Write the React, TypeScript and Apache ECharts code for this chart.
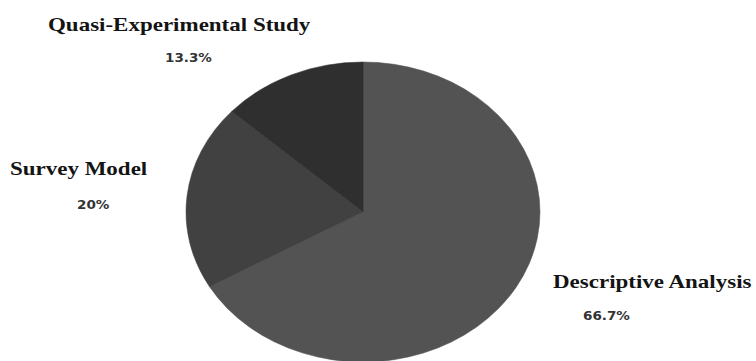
import React, { useEffect, useRef } from "react";
import * as echarts from "echarts";

const categories = ["Descriptive Analysis", "Survey Model", "Quasi-Experimental Study"];
const values = [66.7, 20, 13.3];
const percentLabels = ["66.7%", "20%", "13.3%"];
const sliceColors = ["#535353", "#414141", "#2f2f2f"];

export default function App() {
  const ref = useRef<HTMLDivElement>(null);
  useEffect(() => {
    if (!ref.current) return;
    const chart = echarts.init(ref.current, undefined, { renderer: "svg" });
    const total = values.reduce((a, b) => a + b, 0);
    const cx = 363;
    const cy = 212;
    const ry = 150;
    const rx = 177;
    const titleFont = { fontFamily: "Liberation Serif", fontWeight: "bold" as const, fontSize: 19, fill: "#141414" };
    const pctFont = { fontFamily: "DejaVu Sans", fontWeight: "bold" as const, fontSize: 13, fill: "#333333" };
    const labelPos = [
      { t: [553, 282], p: [583, 316] },
      { t: [10, 169], p: [77, 205] },
      { t: [48, 25], p: [165, 58] },
    ];
    const graphics: any[] = [];
    categories.forEach((c, i) => {
      graphics.push({
        type: "text",
        x: labelPos[i].t[0],
        y: labelPos[i].t[1],
        scaleX: 1.21,
        style: { text: c, ...titleFont, textVerticalAlign: "middle", verticalAlign: "middle" },
      });
      graphics.push({
        type: "text",
        x: labelPos[i].p[0],
        y: labelPos[i].p[1],
        scaleX: 1.04,
        style: { text: percentLabels[i], ...pctFont, textVerticalAlign: "middle", verticalAlign: "middle" },
      });
    });
    chart.setOption({
      animation: false,
      backgroundColor: "#ffffff",
      graphic: graphics,
      series: [
        {
          type: "custom",
          coordinateSystem: "none",
          data: values.map((v, i) => ({ value: v, name: categories[i] })),
          renderItem: (params: any, api: any) => {
            const idx = params.dataIndex;
            let before = 0;
            for (let k = 0; k < idx; k++) before += values[k];
            const v = api.value(0) as number;
            const start = -Math.PI / 2 + (before / total) * Math.PI * 2;
            const end = start + (v / total) * Math.PI * 2;
            return {
              type: "sector",
              x: cx,
              y: cy,
              scaleX: rx / ry,
              scaleY: 1,
              shape: { cx: 0, cy: 0, r: ry, r0: 0, startAngle: start, endAngle: end, clockwise: true },
              style: { fill: sliceColors[idx], stroke: sliceColors[idx], lineWidth: 0.5 },
            };
          },
        },
      ],
    });
    return () => chart.dispose();
  }, []);
  return (
    <div
      ref={ref}
      style={{ position: "absolute", left: 0, top: 0, width: 756, height: 361 }}
    />
  );
}
